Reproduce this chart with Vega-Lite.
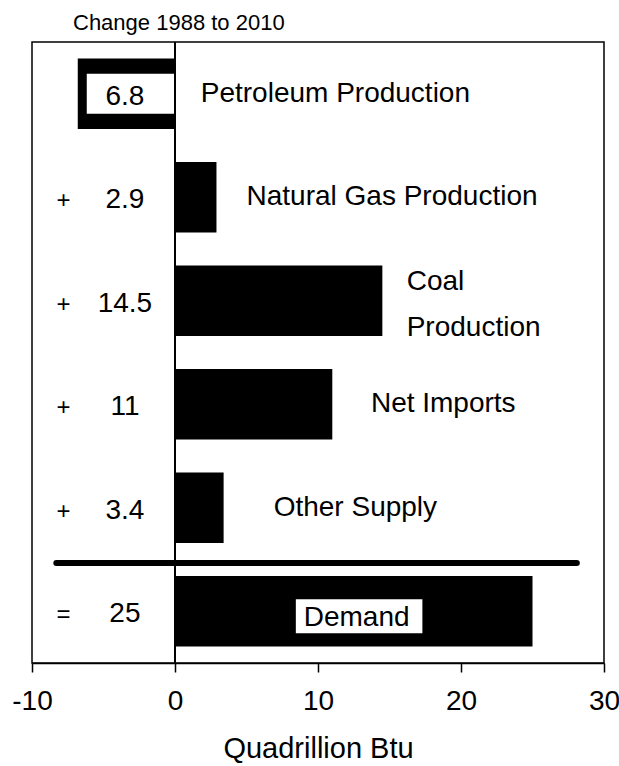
{
  "$schema": "https://vega.github.io/schema/vega-lite/v6.json",
  "width": 572,
  "height": 621,
  "autosize": "none",
  "padding": {"left": 32, "top": 42, "right": 15, "bottom": 103},
  "background": "white",
  "title": {
    "text": "Change 1988 to 2010",
    "anchor": "start",
    "frame": "group",
    "dx": 41,
    "dy": 25,
    "offset": 9,
    "baseline": "bottom",
    "fontSize": 22,
    "fontWeight": "normal",
    "font": "Liberation Sans",
    "color": "black"
  },
  "datasets": {
    "rows": [
      {"cat": "Petroleum Production", "value": -6.8, "label": "6.8", "op": ""},
      {"cat": "Natural Gas Production", "value": 2.9, "label": "2.9", "op": "+"},
      {"cat": "Coal Production", "value": 14.5, "label": "14.5", "op": "+"},
      {"cat": "Net Imports", "value": 11, "label": "11", "op": "+"},
      {"cat": "Other Supply", "value": 3.4, "label": "3.4", "op": "+"},
      {"cat": "Demand", "value": 25, "label": "25", "op": "="}
    ],
    "names": [
      {"cat": "Petroleum Production", "text": "Petroleum Production", "x": 1.8},
      {"cat": "Natural Gas Production", "text": "Natural Gas Production", "x": 5.0},
      {"cat": "Coal Production", "text": ["Coal", "Production"], "x": 16.2},
      {"cat": "Net Imports", "text": "Net Imports", "x": 13.7},
      {"cat": "Other Supply", "text": "Other Supply", "x": 6.9}
    ],
    "demandBox": [
      {"cat": "Demand", "text": "Demand", "start": 8.45, "end": 17.3, "x": 9.0}
    ]
  },
  "encoding": {
    "y": {
      "field": "cat",
      "type": "nominal",
      "sort": null,
      "scale": {
        "domain": ["Petroleum Production", "Natural Gas Production", "Coal Production", "Net Imports", "Other Supply", "Demand"],
        "paddingInner": 0.32,
        "paddingOuter": 0.16
      },
      "axis": null
    }
  },
  "layer": [
    {
      "data": {"name": "rows"},
      "mark": {"type": "bar", "color": "black"},
      "encoding": {
        "x": {
          "field": "value",
          "type": "quantitative",
          "scale": {"domain": [-10, 30], "nice": false, "zero": false},
          "axis": {
            "values": [-10, 0, 10, 20, 30],
            "labelExpr": "datum.value < 0 ? '-' + abs(datum.value) : datum.label",
            "grid": false,
            "domainColor": "black",
            "domainWidth": 1.5,
            "tickColor": "black",
            "tickWidth": 1.5,
            "tickSize": 9,
            "labelFontSize": 28,
            "labelFont": "Liberation Sans",
            "labelColor": "black",
            "labelPadding": 15,
            "labelFlush": false,
            "labelOverlap": false,
            "title": "Quadrillion Btu",
            "titleFont": "Liberation Sans",
            "titleFontSize": 29,
            "titleFontWeight": "normal",
            "titleColor": "black",
            "titlePadding": 19
          }
        }
      }
    },
    {
      "data": {"name": "rows"},
      "transform": [{"filter": "datum.cat == 'Petroleum Production'"}],
      "mark": {"type": "bar", "color": "white", "height": {"band": 0.57}, "xOffset": 9, "x2Offset": -11},
      "encoding": {
        "x": {"field": "value", "type": "quantitative"}
      }
    },
    {
      "data": {"name": "demandBox"},
      "mark": {"type": "bar", "color": "white", "height": {"band": 0.48}, "yOffset": 5},
      "encoding": {
        "x": {"field": "start", "type": "quantitative"},
        "x2": {"field": "end"}
      }
    },
    {
      "data": {"name": "demandBox"},
      "mark": {"type": "text", "align": "left", "baseline": "middle", "fontSize": 28, "font": "Liberation Sans", "color": "black", "yOffset": 7},
      "encoding": {
        "x": {"field": "x", "type": "quantitative"},
        "text": {"field": "text", "type": "nominal"}
      }
    },
    {
      "data": {"name": "rows"},
      "mark": {"type": "rule", "color": "black", "strokeWidth": 1.5},
      "encoding": {
        "x": {"datum": 0, "type": "quantitative"},
        "y": null
      }
    },
    {
      "data": {"values": [{"cat": "Demand"}]},
      "mark": {"type": "rule", "color": "black", "strokeWidth": 6, "strokeCap": "round", "yOffset": -13},
      "encoding": {
        "y": {"field": "cat", "type": "nominal", "bandPosition": 0},
        "x": {"datum": -8.3, "type": "quantitative"},
        "x2": {"datum": 28.1}
      }
    },
    {
      "data": {"name": "rows"},
      "mark": {"type": "text", "align": "center", "baseline": "middle", "fontSize": 28, "font": "Liberation Sans", "color": "black", "yOffset": 3},
      "encoding": {
        "x": {"datum": -3.5, "type": "quantitative"},
        "text": {"field": "label", "type": "nominal"}
      }
    },
    {
      "data": {"name": "rows"},
      "mark": {"type": "text", "align": "center", "baseline": "middle", "fontSize": 24, "font": "Liberation Sans", "color": "black", "yOffset": 4},
      "encoding": {
        "x": {"datum": -7.8, "type": "quantitative"},
        "text": {"field": "op", "type": "nominal"}
      }
    },
    {
      "data": {"name": "names"},
      "transform": [{"filter": "datum.cat != 'Coal Production'"}],
      "mark": {"type": "text", "align": "left", "baseline": "middle", "fontSize": 28, "font": "Liberation Sans", "color": "black"},
      "encoding": {
        "x": {"field": "x", "type": "quantitative"},
        "text": {"field": "text", "type": "nominal"}
      }
    },
    {
      "data": {"name": "names"},
      "transform": [{"filter": "datum.cat == 'Coal Production'"}],
      "mark": {"type": "text", "align": "left", "baseline": "middle", "fontSize": 28, "font": "Liberation Sans", "color": "black", "lineHeight": 46, "yOffset": -19},
      "encoding": {
        "x": {"field": "x", "type": "quantitative"},
        "text": {"field": "text", "type": "nominal"}
      }
    }
  ],
  "config": {
    "view": {"stroke": "black", "strokeWidth": 1.5}
  }
}
